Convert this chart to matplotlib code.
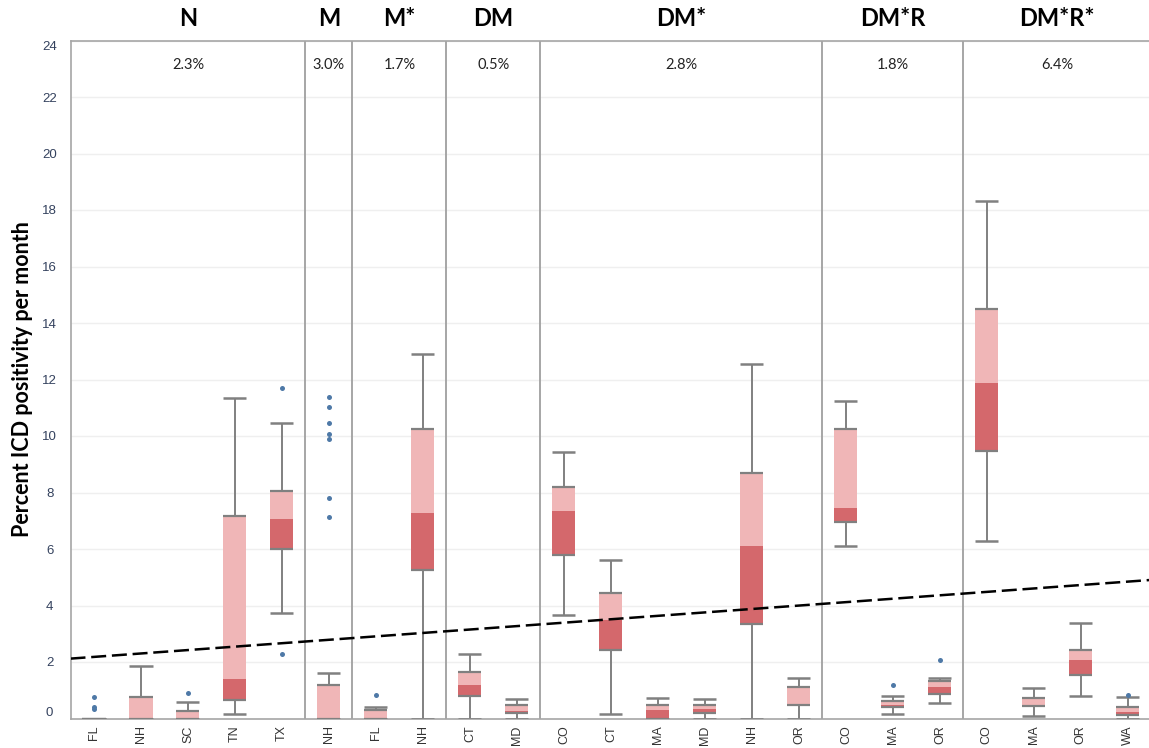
import numpy as np
import matplotlib.pyplot as plt
import matplotlib.transforms as mtransforms

# categories (state within each group)
states = ['FL', 'NH', 'SC', 'TN', 'TX',
          'NH',
          'FL', 'NH',
          'CT', 'MD',
          'CO', 'CT', 'MA', 'MD', 'NH', 'OR',
          'CO', 'MA', 'OR',
          'CO', 'MA', 'OR', 'WA']
groups = ['N', 'M', 'M*', 'DM', 'DM*', 'DM*R', 'DM*R*']
group_sizes = [5, 1, 2, 2, 6, 3, 4]
group_pct = ['2.3%', '3.0%', '1.7%', '0.5%', '2.8%', '1.8%', '6.4%']

# box statistics
q1 = [0, 0, 0, 0.65, 6.00,
      0,
      0, 5.26,
      0.80, 0.18,
      5.79, 2.42, 0, 0.18, 3.35, 0.48,
      6.96, 0.40, 0.86,
      9.48, 0.44, 1.53, 0.11]
med = [0, 0, 0, 1.41, 7.07,
       0,
       0, 7.26,
       1.19, 0.28,
       7.36, 3.49, 0.30, 0.35, 6.12, 0.48,
       7.46, 0.47, 1.13,
       11.87, 0.47, 2.07, 0.23]
q3 = [0, 0.77, 0.27, 7.17, 8.05,
      1.19,
      0.29, 10.26,
      1.64, 0.47,
      8.19, 4.44, 0.47, 0.47, 8.69, 1.12,
      10.25, 0.61, 1.34,
      14.50, 0.74, 2.44, 0.42]
whislo = [0, 0, 0, 0.15, 3.72,
          0,
          0, 0,
          0, 0,
          3.65, 0.15, 0, 0, 0, 0,
          6.12, 0.17, 0.56,
          6.27, 0.08, 0.79, 0]
whishi = [0, 1.87, 0.57, 11.33, 10.47,
          1.62,
          0.41, 12.89,
          2.29, 0.68,
          9.45, 5.60, 0.73, 0.68, 12.54, 1.42,
          11.23, 0.80, 1.45,
          18.33, 1.07, 3.37, 0.75]
outliers = {0: [0.77, 0.40, 0.33],
            2: [0.91],
            4: [11.71, 2.27],
            5: [11.37, 11.04, 10.47, 10.06, 9.88, 7.82, 7.14],
            6: [0.83],
            17: [1.20],
            18: [2.06],
            22: [0.82]}

# dashed reference line (value at the left and right edge)
ref_x = [-0.5, 22.45]
ref_y = [2.12, 4.90]

light = '#f0b6b7'
dark = '#d4686c'
gray = '#808080'
blue = '#4e79a7'

W, H = 1149, 748
fig = plt.figure(figsize=(W / 100, H / 100), dpi=100)
ax = fig.add_axes([70.5 / W, (H - 718.5) / H, (W - 70.5) / W, 678 / H])

x = np.arange(len(states))
q1, med, q3 = np.array(q1), np.array(med), np.array(q3)
bw = 0.49

ax.bar(x, med - q1, bottom=q1, width=bw, color=dark, zorder=3)
ax.bar(x, q3 - med, bottom=med, width=bw, color=light, zorder=3)
ax.hlines(q1, x - bw / 2, x + bw / 2, color=gray, lw=1.6, zorder=4)
ax.hlines(q3, x - bw / 2, x + bw / 2, color=gray, lw=1.6, zorder=4)
ax.vlines(x, q3, whishi, color=gray, lw=1.4, zorder=2)
ax.vlines(x, whislo, q1, color=gray, lw=1.4, zorder=2)
ax.hlines(whishi, x - bw / 2, x + bw / 2, color=gray, lw=1.8, zorder=4)
ax.hlines(whislo, x - bw / 2, x + bw / 2, color=gray, lw=1.8, zorder=4)
for i, vals in outliers.items():
    ax.plot([i] * len(vals), vals, 'o', color=blue, ms=3.6, mec='none', zorder=5)

line, = ax.plot(ref_x, ref_y, color='black', lw=1.8, zorder=6)
line.set_dashes((6, 2.3))

# group dividers, titles and percentages
tr = mtransforms.blended_transform_factory(ax.transData, ax.transAxes)
edges = np.cumsum([0] + group_sizes) - 0.5
for e in edges[1:-1]:
    ax.axvline(e, color='#a6a6a6', lw=1.4, zorder=1)
for k, g in enumerate(groups):
    cx = (edges[k] + edges[k + 1]) / 2
    ax.text(cx, 1.033, g, transform=tr, ha='center', va='center',
            fontsize=17, fontweight='bold', family='Lato')
    ax.text(cx, 0.964, group_pct[k], transform=tr, ha='center', va='center',
            fontsize=10.5, family='Lato', color='#222222')

ax.set_xlim(-0.5, 22.45)
ax.set_ylim(0, 24)
ax.set_yticks(range(0, 25, 2))
ax.set_xticks(x)
ax.set_xticklabels(states, rotation=90, fontsize=9, family='Liberation Sans', color='#333333')
ax.tick_params(length=0)
ax.tick_params(axis='y', labelsize=9.5, labelcolor='#34425e', pad=15)
ax.tick_params(axis='x', pad=5)
for lab in ax.get_yticklabels():
    lab.set_family('Liberation Sans')
    lab.set_ha('center')
ylabs = ax.get_yticklabels()
ylabs[0].set_va('bottom')
ylabs[-1].set_va('top')

ax.yaxis.grid(True, color='#efefef', lw=1)
ax.set_axisbelow(True)
for s in ['left', 'top', 'bottom']:
    ax.spines[s].set_color('#a6a6a6')
    ax.spines[s].set_linewidth(1.2)
ax.spines['right'].set_visible(False)

ax.set_ylabel('Percent ICD positivity per month', fontsize=15.5, fontweight='bold',
              family='Lato')
ax.yaxis.set_label_coords(-0.035, 0.5)

fig.savefig('out.png', dpi=100)
